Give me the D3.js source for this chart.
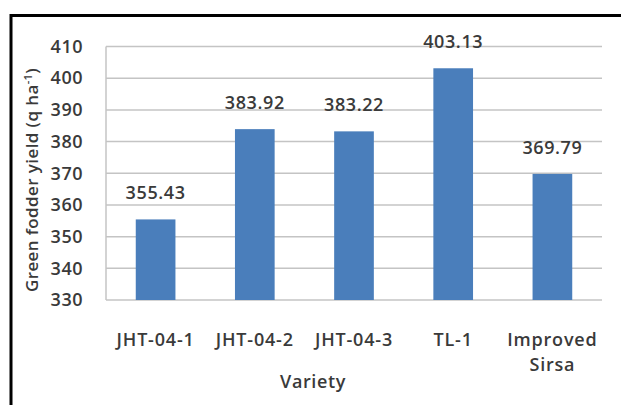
<!DOCTYPE html>
<html><head><meta charset="utf-8">
<script src="https://cdn.jsdelivr.net/npm/d3@7"></script>
<style>body{margin:0;background:#fff}svg{display:block}text{font-family:"Open Sans",sans-serif;fill:#3a3a3a}</style>
</head><body>
<script>
const categories = ["JHT-04-1", "JHT-04-2", "JHT-04-3", "TL-1", "Improved Sirsa"];
const values = [355.43, 383.92, 383.22, 403.13, 369.79];
const labels = ["355.43", "383.92", "383.22", "403.13", "369.79"];
const yTicks = [330, 340, 350, 360, 370, 380, 390, 400, 410];

const W = 621, H = 405;
const svg = d3.select("body").append("svg").attr("width", W).attr("height", H);

// frame
svg.append("rect").attr("x", 11).attr("y", 15.5).attr("width", 700).attr("height", 500)
  .attr("fill", "#fff").attr("stroke", "#000").attr("stroke-width", 3);

const x = d3.scaleBand().domain(categories).range([106, 602]).paddingInner(0.6).paddingOuter(0.3);
const y = d3.scaleLinear().domain([330, 410]).range([300, 46.5]);

// gridlines
svg.append("g").selectAll("line").data(yTicks).join("line")
  .attr("x1", 106).attr("x2", 602)
  .attr("y1", d => y(d)).attr("y2", d => y(d))
  .attr("stroke", "#c4c4c4").attr("stroke-width", 1.5);
svg.append("line").attr("x1", 106).attr("x2", 106).attr("y1", y(410)).attr("y2", y(330))
  .attr("stroke", "#c4c4c4").attr("stroke-width", 1.5);

// y axis labels
const yAxis = d3.axisLeft(y).tickValues(yTicks).tickSize(0).tickPadding(0);
const ga = svg.append("g").attr("transform", "translate(83,0)").call(yAxis);
ga.select(".domain").remove();
ga.selectAll("text").style("font-size", "18px").style("font-weight", 600)
  .style("letter-spacing", "0.5px").attr("fill", "#3a3a3a");

// bars
svg.append("g").selectAll("rect").data(values).join("rect")
  .attr("x", (d, i) => x(categories[i]))
  .attr("width", x.bandwidth())
  .attr("y", d => y(d))
  .attr("height", d => y(330) - y(d))
  .attr("fill", "#4a7ebb");

// data labels
svg.append("g").selectAll("text").data(values).join("text")
  .attr("x", (d, i) => x(categories[i]) + x.bandwidth() / 2)
  .attr("y", d => y(d) - 20)
  .attr("text-anchor", "middle")
  .style("font-size", "18px").style("font-weight", 600).style("letter-spacing", "0.6px")
  .text((d, i) => labels[i]);

// category labels
const xl = svg.append("g").selectAll("text").data(categories).join("text")
  .attr("x", d => x(d) + x.bandwidth() / 2)
  .attr("y", 346)
  .attr("text-anchor", "middle")
  .style("font-size", "18px").style("font-weight", 600).style("letter-spacing", "0.8px");
xl.each(function(d) {
  const words = d === "Improved Sirsa" ? ["Improved", "Sirsa"] : [d];
  const t = d3.select(this);
  words.forEach((w, i) => t.append("tspan").attr("x", t.attr("x")).attr("dy", i === 0 ? 0 : 25).text(w));
});

// axis titles
svg.append("text").attr("x", 313).attr("y", 388).attr("text-anchor", "middle")
  .style("font-size", "18px").style("font-weight", 600).style("letter-spacing", "0.6px").text("Variety");

const yt = svg.append("text").attr("transform", "translate(38,180) rotate(-90)")
  .attr("text-anchor", "middle").style("font-size", "17px").style("font-weight", 600)
  .style("letter-spacing", "0.4px");
yt.append("tspan").text("Green fodder yield (q ha");
yt.append("tspan").attr("dy", -6).style("font-size", "11px").text("-1");
yt.append("tspan").attr("dy", 6).text(")");
</script>
</body></html>
